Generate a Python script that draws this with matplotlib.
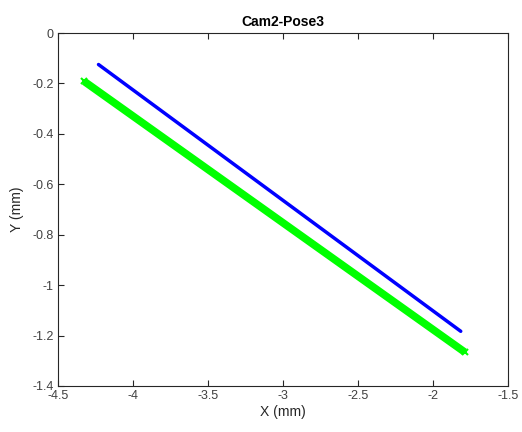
import matplotlib
matplotlib.use("Agg")
import matplotlib.pyplot as plt

plt.rcParams['font.family'] = ['Liberation Sans', 'DejaVu Sans']

blue_x = [-4.23, -1.815]
blue_y = [-0.125, -1.183]
green_x = [-4.325, -1.79]
green_y = [-0.192, -1.265]

xticks = [-4.5, -4, -3.5, -3, -2.5, -2, -1.5]
yticks = [-1.4, -1.2, -1, -0.8, -0.6, -0.4, -0.2, 0]

fig = plt.figure(figsize=(5.22, 4.32), dpi=100)
ax = fig.add_axes([58/522, 1-386/432, 450/522, 353/432])
ax.plot(green_x, green_y, color='#00ff00', lw=5.5, solid_capstyle='butt',
        marker='x', markersize=5, markeredgewidth=1.5)
ax.plot(blue_x, blue_y, color='#0000ff', lw=2.5, solid_capstyle='round')
ax.set_xlim(-4.5, -1.5)
ax.set_ylim(-1.4, 0)
ax.set_xticks(xticks)
ax.set_xticklabels([f"{t:g}" for t in xticks])
ax.set_yticks(yticks)
ax.set_yticklabels([f"{t:g}" for t in yticks])
ax.tick_params(direction='in', length=4, labelsize=9, colors='#262626',
               labelcolor='#404040', top=True, right=False, pad=3)
for s in ax.spines.values():
    s.set_color('#262626')
    s.set_linewidth(0.8)
ax.set_xlabel('X (mm)', fontsize=10, color='#262626', labelpad=2)
ax.set_ylabel('Y (mm)', fontsize=10, color='#262626', labelpad=6)
ax.set_title('Cam2-Pose3', fontsize=10, fontweight='bold', color='#000000', pad=5)
fig.savefig('out.png', dpi=100)
